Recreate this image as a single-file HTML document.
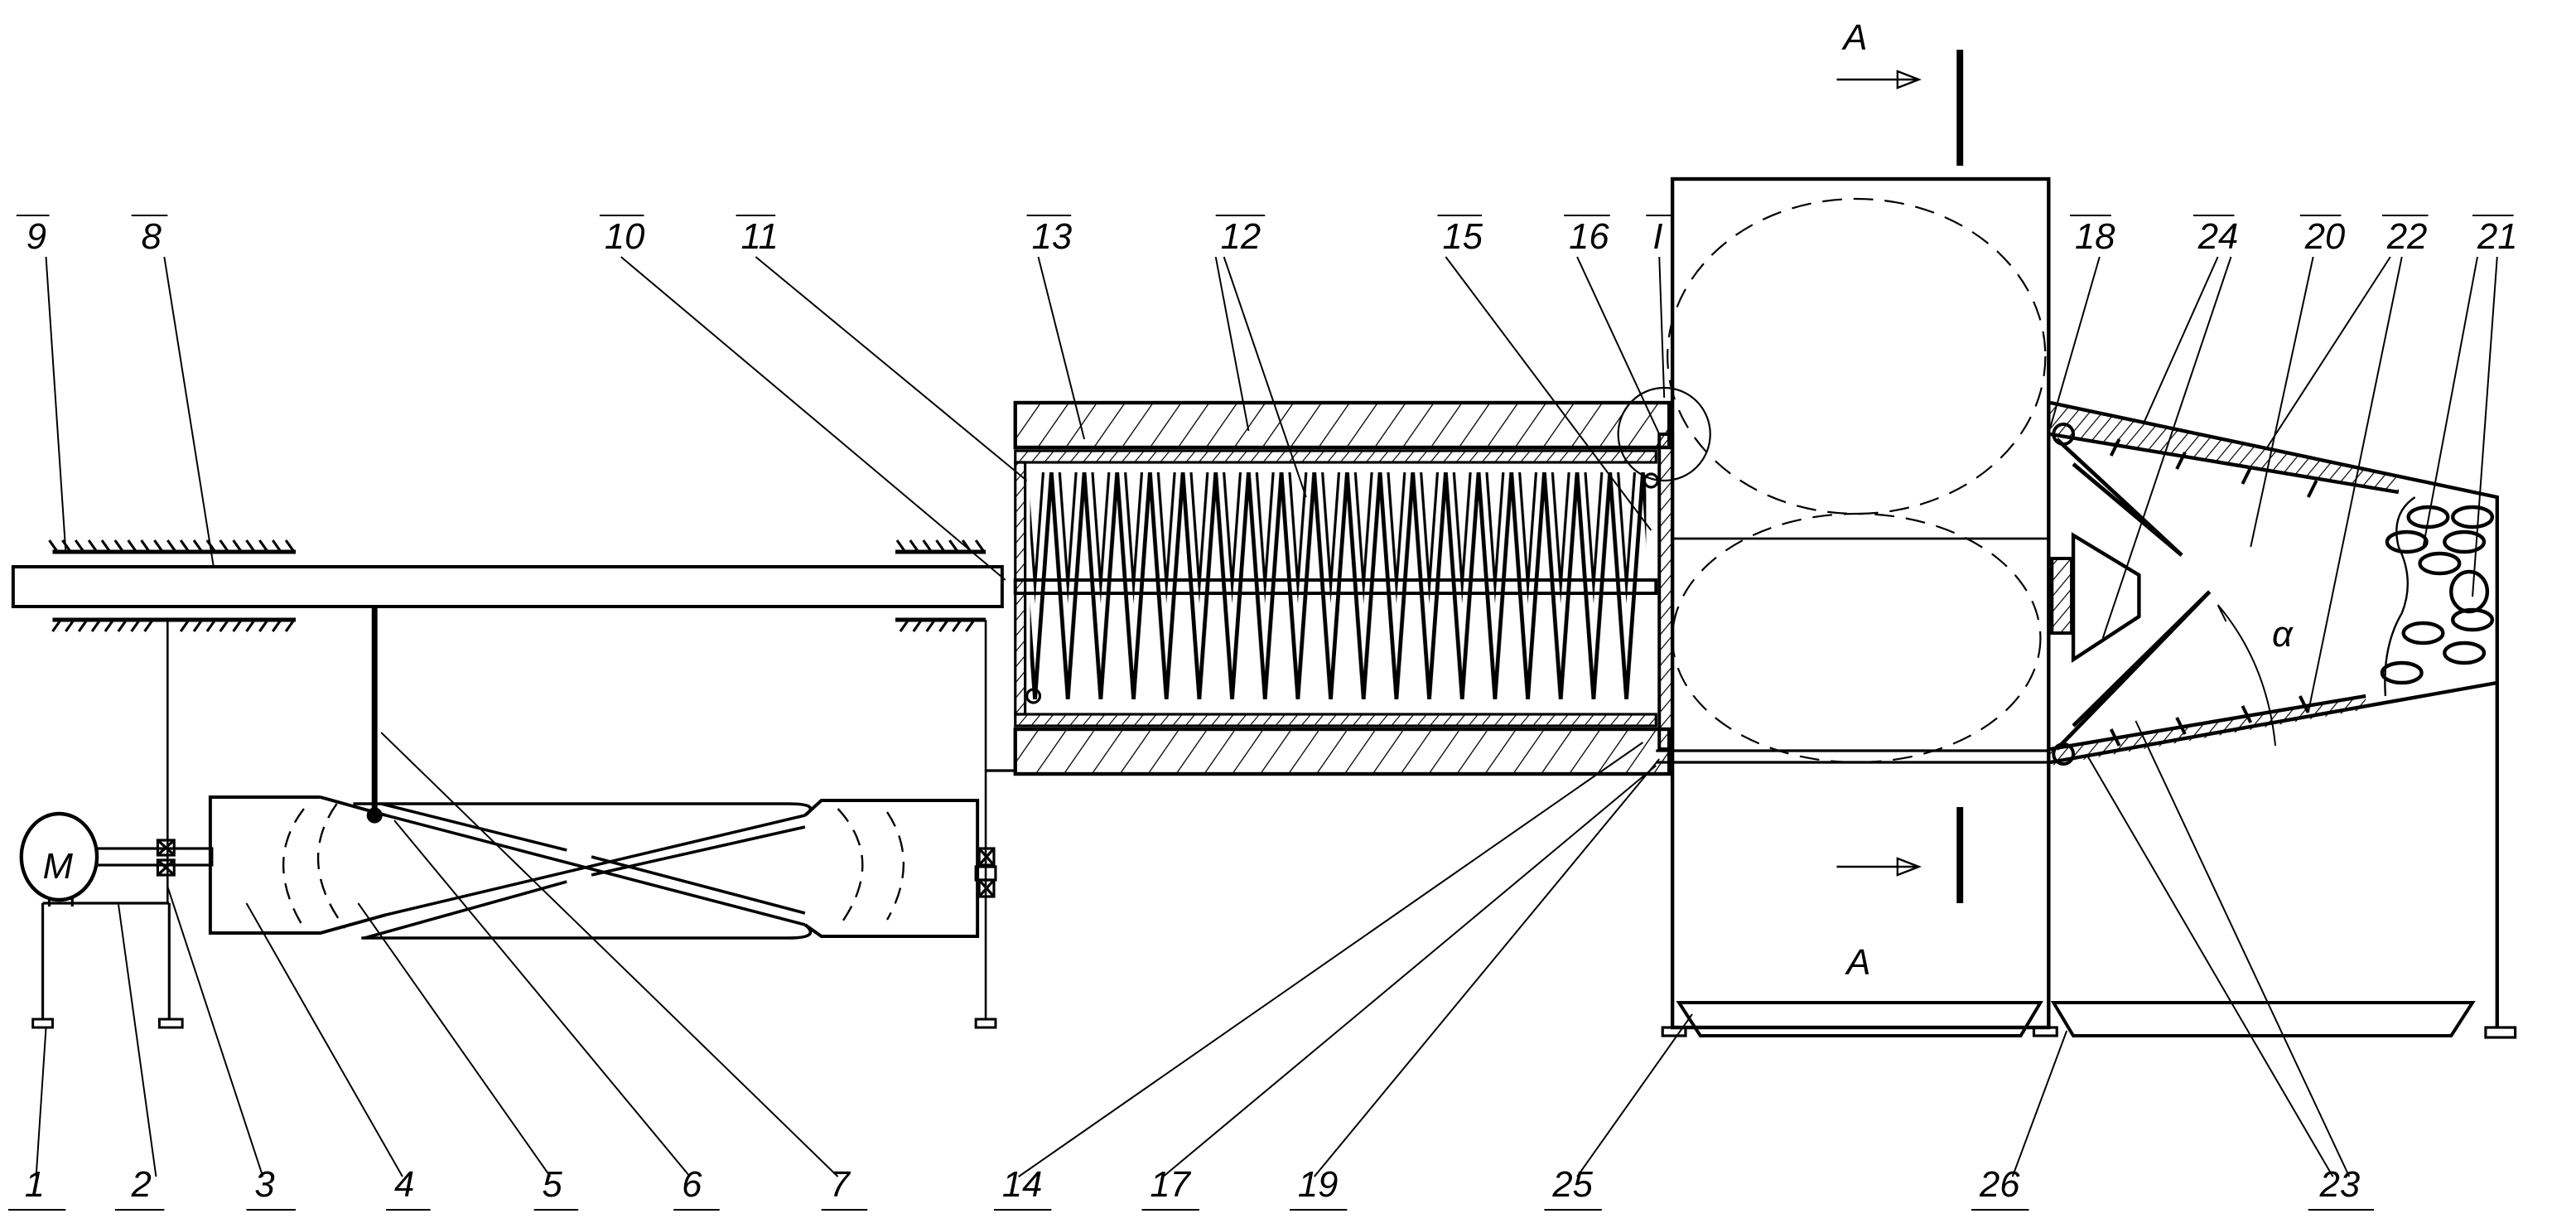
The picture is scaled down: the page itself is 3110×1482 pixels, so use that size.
<!DOCTYPE html>
<html><head><meta charset="utf-8"><style>
html,body{margin:0;padding:0;background:#fff}
svg{display:block}
text{font-family:"Liberation Sans",sans-serif;font-style:italic;font-size:22px;fill:#000}
</style></head><body>
<svg width="3110" height="1482" viewBox="0 0 1568 741" preserveAspectRatio="none" xmlns="http://www.w3.org/2000/svg">
<defs>
<pattern id="h" width="14" height="14" patternUnits="userSpaceOnUse" patternTransform="rotate(35)">
<line x1="0" y1="0" x2="0" y2="14" stroke="#000" stroke-width="1.3"/></pattern>
<pattern id="hs" width="6" height="6" patternUnits="userSpaceOnUse" patternTransform="rotate(40)">
<line x1="0" y1="0" x2="0" y2="6" stroke="#000" stroke-width="1.2"/></pattern>
<pattern id="zz" x="630" y="285" width="20" height="137" patternUnits="userSpaceOnUse">
<path d="M0,137 L10,0 L20,137" fill="none" stroke="#000" stroke-width="2.4"/>
<path d="M-5,137 L5,0 M15,0 L25,137" fill="none" stroke="#000" stroke-width="1.6"/></pattern>
</defs>
<g fill="none" stroke="#000" stroke-width="1.6">
<rect x="8" y="342" width="602" height="24" stroke-width="2"/>
<line x1="32" y1="333" x2="180" y2="333" stroke-width="2.5"/>
<line x1="32" y1="374" x2="180" y2="374" stroke-width="2.5"/>
<line x1="545" y1="333" x2="600" y2="333" stroke-width="2.5"/>
<line x1="545" y1="374" x2="600" y2="374" stroke-width="2.5"/>
<path d="M35,333l-5,-7M43,333l-5,-7M51,333l-5,-7M59,333l-5,-7M67,333l-5,-7M75,333l-5,-7M83,333l-5,-7M91,333l-5,-7M99,333l-5,-7M107,333l-5,-7M115,333l-5,-7M123,333l-5,-7M131,333l-5,-7M139,333l-5,-7M147,333l-5,-7M155,333l-5,-7M163,333l-5,-7M171,333l-5,-7M179,333l-5,-7"/>
<path d="M37,374l-5,7M45,374l-5,7M53,374l-5,7M61,374l-5,7M69,374l-5,7M77,374l-5,7M85,374l-5,7M93,374l-5,7M115,374l-5,7M123,374l-5,7M131,374l-5,7M139,374l-5,7M147,374l-5,7M155,374l-5,7M163,374l-5,7M171,374l-5,7M179,374l-5,7"/>
<path d="M551,333l-5,-7M559,333l-5,-7M567,333l-5,-7M575,333l-5,-7M583,333l-5,-7M591,333l-5,-7M599,333l-5,-7"/>
<path d="M553,374l-5,7M561,374l-5,7M569,374l-5,7M577,374l-5,7M585,374l-5,7M593,374l-5,7"/>
<line x1="102" y1="374" x2="102" y2="545" stroke-width="1.3"/>
<ellipse cx="36" cy="517" rx="23" ry="26" stroke-width="2.2"/>
<path d="M30,542v5M44,542v5"/>
<path d="M26,545H103M26,545V615M103,545V615"/>
<rect x="20" y="615" width="12" height="5" stroke-width="1.5"/>
<rect x="97" y="615" width="14" height="5" stroke-width="1.5"/>
<rect x="59" y="512" width="70" height="10"/>
<rect x="96" y="507" width="10" height="9"/><path d="M96,507l10,9M106,507l-10,9"/>
<rect x="96" y="519" width="10" height="9"/><path d="M96,519l10,9M106,519l-10,9"/>
<!-- drum 4 -->
<path d="M195,481H128V563H195L235,552M195,481L235,492" stroke-width="2"/>
<path d="M215,485H480Q500,485 490,492M220,566H480Q500,566 490,558" stroke-width="1.8"/>
<path d="M490,492L500,483H595V565H500L490,558" stroke-width="2"/>
<path d="M235,492L490,558M232,485L345,513M360,517L490,551" stroke-width="1.8"/>
<path d="M235,552L490,492M222,566L345,532M360,528L490,499" stroke-width="1.8"/>
<path d="M185,488Q160,520 185,560M205,485Q180,520 210,560M510,488Q540,520 510,560M540,490Q560,520 540,555" stroke-dasharray="10,6" stroke-width="1.2"/>
<circle cx="228" cy="492" r="4" fill="#000"/>
<line x1="228" y1="366" x2="228" y2="492" stroke-width="3.5"/>
<line x1="600" y1="374" x2="600" y2="615" stroke-width="1.3"/>
<rect x="596" y="512" width="9" height="10"/><path d="M596,512l9,10M605,512l-9,10"/>
<rect x="594" y="523" width="12" height="8"/>
<rect x="596" y="531" width="9" height="10"/><path d="M596,531l9,10M605,531l-9,10"/>
<rect x="594" y="615" width="12" height="5" stroke-width="1.5"/>
<path d="M600,465H618"/>
<rect x="618" y="243" width="398" height="27" fill="url(#h)" stroke-width="2.2"/>
<rect x="618" y="440" width="398" height="27" fill="url(#h)" stroke-width="2.2"/>
<rect x="618" y="272" width="390" height="7" fill="url(#hs)"/>
<rect x="618" y="431" width="390" height="7" fill="url(#hs)"/>
<rect x="618" y="279" width="6" height="152" fill="url(#hs)"/>
<rect x="627" y="285" width="375" height="137" fill="url(#zz)" stroke="none"/>
<rect x="618" y="350" width="390" height="8" stroke-width="2"/>
<circle cx="629" cy="420" r="4"/><circle cx="1005" cy="290" r="4"/>
<rect x="1010" y="262" width="8" height="190" fill="url(#hs)" stroke-width="2"/>
<circle cx="1013" cy="262" r="28" stroke-width="1.1"/>
<rect x="1018" y="108" width="229" height="512" stroke-width="2.2"/>
<line x1="1018" y1="325" x2="1247" y2="325" stroke-width="1.4"/>
<path d="M1008,453H1247M1008,460H1247" stroke-width="1.6"/>
<ellipse cx="1130" cy="215" rx="115" ry="95" stroke-dasharray="12,7" stroke-width="1.1"/>
<ellipse cx="1130" cy="385" rx="112" ry="75" stroke-dasharray="12,7" stroke-width="1.1"/>
<path d="M1118,48H1168M1155,43l13,5l-13,5z" stroke-width="1.2"/>
<line x1="1193" y1="30" x2="1193" y2="100" stroke-width="4"/>
<path d="M1118,523H1168M1155,518l13,5l-13,5z" stroke-width="1.2"/>
<line x1="1193" y1="487" x2="1193" y2="545" stroke-width="4"/>
<path d="M1022,605H1242L1230,625H1035Z" stroke-width="2"/>
<rect x="1012" y="620" width="14" height="5"/><rect x="1238" y="620" width="14" height="5"/>
<path d="M1248,243L1520,300V620M1248,262L1460,297" stroke-width="2.2"/>
<path d="M1248,460L1520,412M1248,452L1440,420" stroke-width="2.2"/>
<path d="M1248,243L1460,288L1460,297L1248,262Z" fill="url(#hs)" stroke="none"/>
<path d="M1248,452L1440,420L1440,428L1248,462Z" fill="url(#hs)" stroke="none"/>
<path d="M1290,265l-5,10M1330,273l-5,10M1370,282l-5,10M1410,290l-5,10M1290,450l-5,-10M1330,443l-5,-10M1370,436l-5,-10M1405,430l-5,-10" stroke-width="2"/>
<circle cx="1256" cy="262" r="6" stroke-width="2"/>
<circle cx="1256" cy="455" r="6" stroke-width="2"/>
<path d="M1252,265L1328,335L1262,280" stroke-width="2.4"/>
<path d="M1252,452L1345,357L1262,438" stroke-width="2.4"/>
<path d="M1262,323L1302,347V372L1262,398Z" stroke-width="2.2"/>
<rect x="1249" y="337" width="12" height="45" fill="url(#hs)" stroke-width="2"/>
<path d="M1350,365Q1380,400 1385,450M1350,365l5,10" stroke-width="1"/>
<path d="M1470,300Q1455,310 1460,330Q1470,350 1462,370Q1450,390 1452,420" stroke-width="1.2"/>
<g stroke-width="2.2">
<ellipse cx="1478" cy="312" rx="12" ry="6"/><ellipse cx="1505" cy="312" rx="12" ry="6"/>
<ellipse cx="1465" cy="327" rx="12" ry="6"/><ellipse cx="1500" cy="327" rx="12" ry="6"/>
<ellipse cx="1485" cy="340" rx="12" ry="6"/>
<ellipse cx="1503" cy="357" rx="11" ry="12"/>
<ellipse cx="1505" cy="374" rx="12" ry="6"/>
<ellipse cx="1475" cy="382" rx="12" ry="6"/><ellipse cx="1500" cy="394" rx="12" ry="6"/>
<ellipse cx="1462" cy="406" rx="12" ry="6"/>
</g>
<path d="M1250,605H1505L1492,625H1262Z" stroke-width="2"/>
<rect x="1513" y="620" width="18" height="6"/>
<g stroke-width="1">
<path d="M22,710L28,620M95,710L72,545M160,710L102,535M245,710L150,545M335,710L218,545M420,710L240,495M510,710L232,442"/>
<path d="M620,710L1000,448M708,710L1008,462M800,710L1010,458M960,710L1030,612M1225,710L1258,622M1420,710L1270,455M1430,710L1300,435"/>
<path d="M28,155L40,333M100,155L130,342M378,155L612,350M460,155L625,290M632,155L660,265M740,155L760,260M745,155L795,300M880,155L1005,320M960,155L1010,262M1010,155L1013,240M1278,155L1248,258M1350,155L1305,255M1358,155L1280,385M1408,155L1370,330M1455,155L1380,270M1462,155L1405,430M1508,155L1475,330M1520,155L1505,360"/>
<path d="M5,730H40M70,730H100M150,730H180M235,730H262M325,730H352M410,730H438M500,730H528M605,730H640M695,730H730M785,730H820M940,730H975M1200,730H1235M1405,730H1445"/>
<path d="M10,130H30M80,130H102M365,130H392M448,130H472M625,130H652M740,130H770M875,130H902M952,130H980M1002,130H1018M1260,130H1285M1335,130H1360M1400,130H1425M1450,130H1478M1505,130H1530"/>
</g>
</g>
<g>
<text x="26" y="530" font-size="26">M</text>
<text x="1122" y="30" font-style="normal">A</text>
<text x="1124" y="588" font-style="normal">A</text>
<text x="1383" y="390" font-size="16">α</text>
<text x="15" y="722">1</text><text x="80" y="722">2</text><text x="155" y="722">3</text><text x="240" y="722">4</text>
<text x="330" y="722">5</text><text x="415" y="722">6</text><text x="505" y="722">7</text><text x="610" y="722">14</text>
<text x="700" y="722">17</text><text x="790" y="722">19</text><text x="945" y="722">25</text><text x="1205" y="722">26</text>
<text x="1412" y="722">23</text>
<text x="16" y="150">9</text><text x="86" y="150">8</text><text x="368" y="150">10</text><text x="451" y="150">11</text>
<text x="628" y="150">13</text><text x="743" y="150">12</text><text x="878" y="150">15</text><text x="955" y="150">16</text>
<text x="1006" y="150" font-style="normal">I</text><text x="1263" y="150">18</text><text x="1338" y="150">24</text>
<text x="1403" y="150">20</text><text x="1453" y="150">22</text><text x="1508" y="150">21</text>
</g>
</svg>
</body></html>
